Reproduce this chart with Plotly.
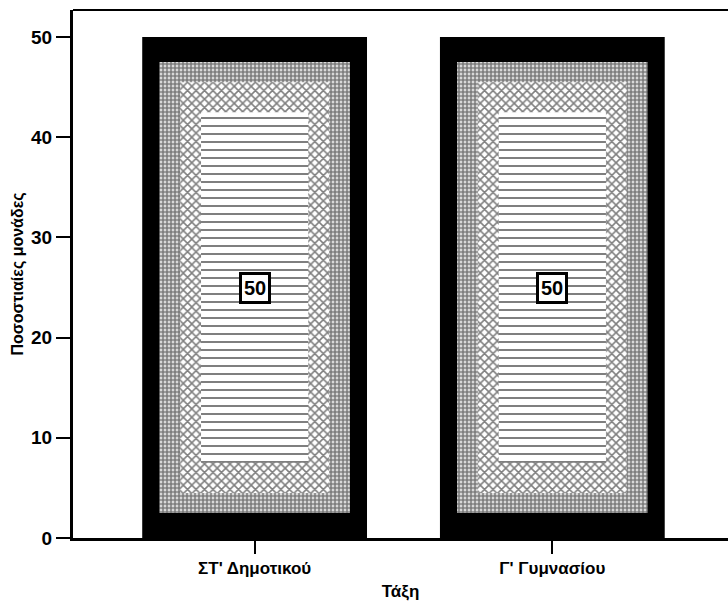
import plotly.graph_objects as go

categories = ["ΣΤ' Δημοτικού", "Γ' Γυμνασίου"]
values = [50, 50]
value_labels = ["50", "50"]
y_ticks = [0, 10, 20, 30, 40, 50]

FONT = "Liberation Sans, Arial, sans-serif"
xpos = list(range(len(categories)))

fig = go.Figure()
# outer dark bar
fig.add_trace(go.Bar(x=xpos, y=values, width=0.755, marker=dict(color="#000000", line=dict(width=0)),
                     hoverinfo="skip", showlegend=False))
# noisy transition band
fig.add_trace(go.Bar(x=xpos, y=[v * 0.9 for v in values], base=[v * 0.05 for v in values], width=0.64,
                     marker=dict(color="#ffffff", line=dict(width=0),
                                 pattern=dict(shape=".", fgcolor="#000000", bgcolor="#ffffff", size=4, solidity=0.75)),
                     hoverinfo="skip", showlegend=False))
# middle band
fig.add_trace(go.Bar(x=xpos, y=[v * 0.82 for v in values], base=[v * 0.09 for v in values], width=0.5,
                     marker=dict(color="#ffffff", line=dict(width=0),
                                 pattern=dict(shape="x", fgcolor="#000000", bgcolor="#ffffff", size=6, solidity=0.45)),
                     hoverinfo="skip", showlegend=False))
# inner lighter band
fig.add_trace(go.Bar(x=xpos, y=[v * 0.7 for v in values], base=[v * 0.15 for v in values], width=0.36,
                     marker=dict(color="#ffffff", line=dict(width=0),
                                 pattern=dict(shape="-", fgcolor="#000000", bgcolor="#ffffff", size=8, solidity=0.25)),
                     hoverinfo="skip", showlegend=False))

for xi, v, lab in zip(xpos, values, value_labels):
    fig.add_annotation(x=xi, y=v / 2, text="<b>" + lab + "</b>", showarrow=False,
                       font=dict(family=FONT, size=20, color="#000"),
                       bgcolor="#ffffff", bordercolor="#000000", borderwidth=3, borderpad=2)

fig.add_shape(type="line", xref="paper", yref="paper", x0=0, x1=1, y0=1, y1=1,
              line=dict(color="#000", width=2))

fig.update_layout(
    width=728, height=609,
    margin=dict(l=73, r=0, t=10, b=71),
    paper_bgcolor="#ffffff", plot_bgcolor="#ffffff",
    barmode="overlay",
    font=dict(family=FONT, color="#000"),
    xaxis=dict(
        tickmode="array", tickvals=xpos, ticktext=["<b>" + c + "</b>" for c in categories],
        range=[-0.61, 1.59], showgrid=False, zeroline=False,
        showline=True, linecolor="#000", linewidth=3,
        ticks="outside", ticklen=13, tickwidth=1.5, tickcolor="#000",
        tickfont=dict(family=FONT, size=17, color="#000", weight="bold"),
        title=dict(text="<b>Τάξη</b>", font=dict(family=FONT, size=17, color="#000"), standoff=8),
    ),
    yaxis=dict(
        range=[0, 52.7], tickvals=y_ticks, showgrid=False, zeroline=False,
        showline=True, linecolor="#000", linewidth=3,
        ticks="outside", ticklen=14, tickwidth=2, tickcolor="#000",
        tickfont=dict(family=FONT, size=19, color="#000", weight="bold"),
        title=dict(text="<b>Ποσοστιαίες μονάδες</b>", font=dict(family=FONT, size=16, color="#000"), standoff=4),
    ),
)

fig.write_html("out.html")
